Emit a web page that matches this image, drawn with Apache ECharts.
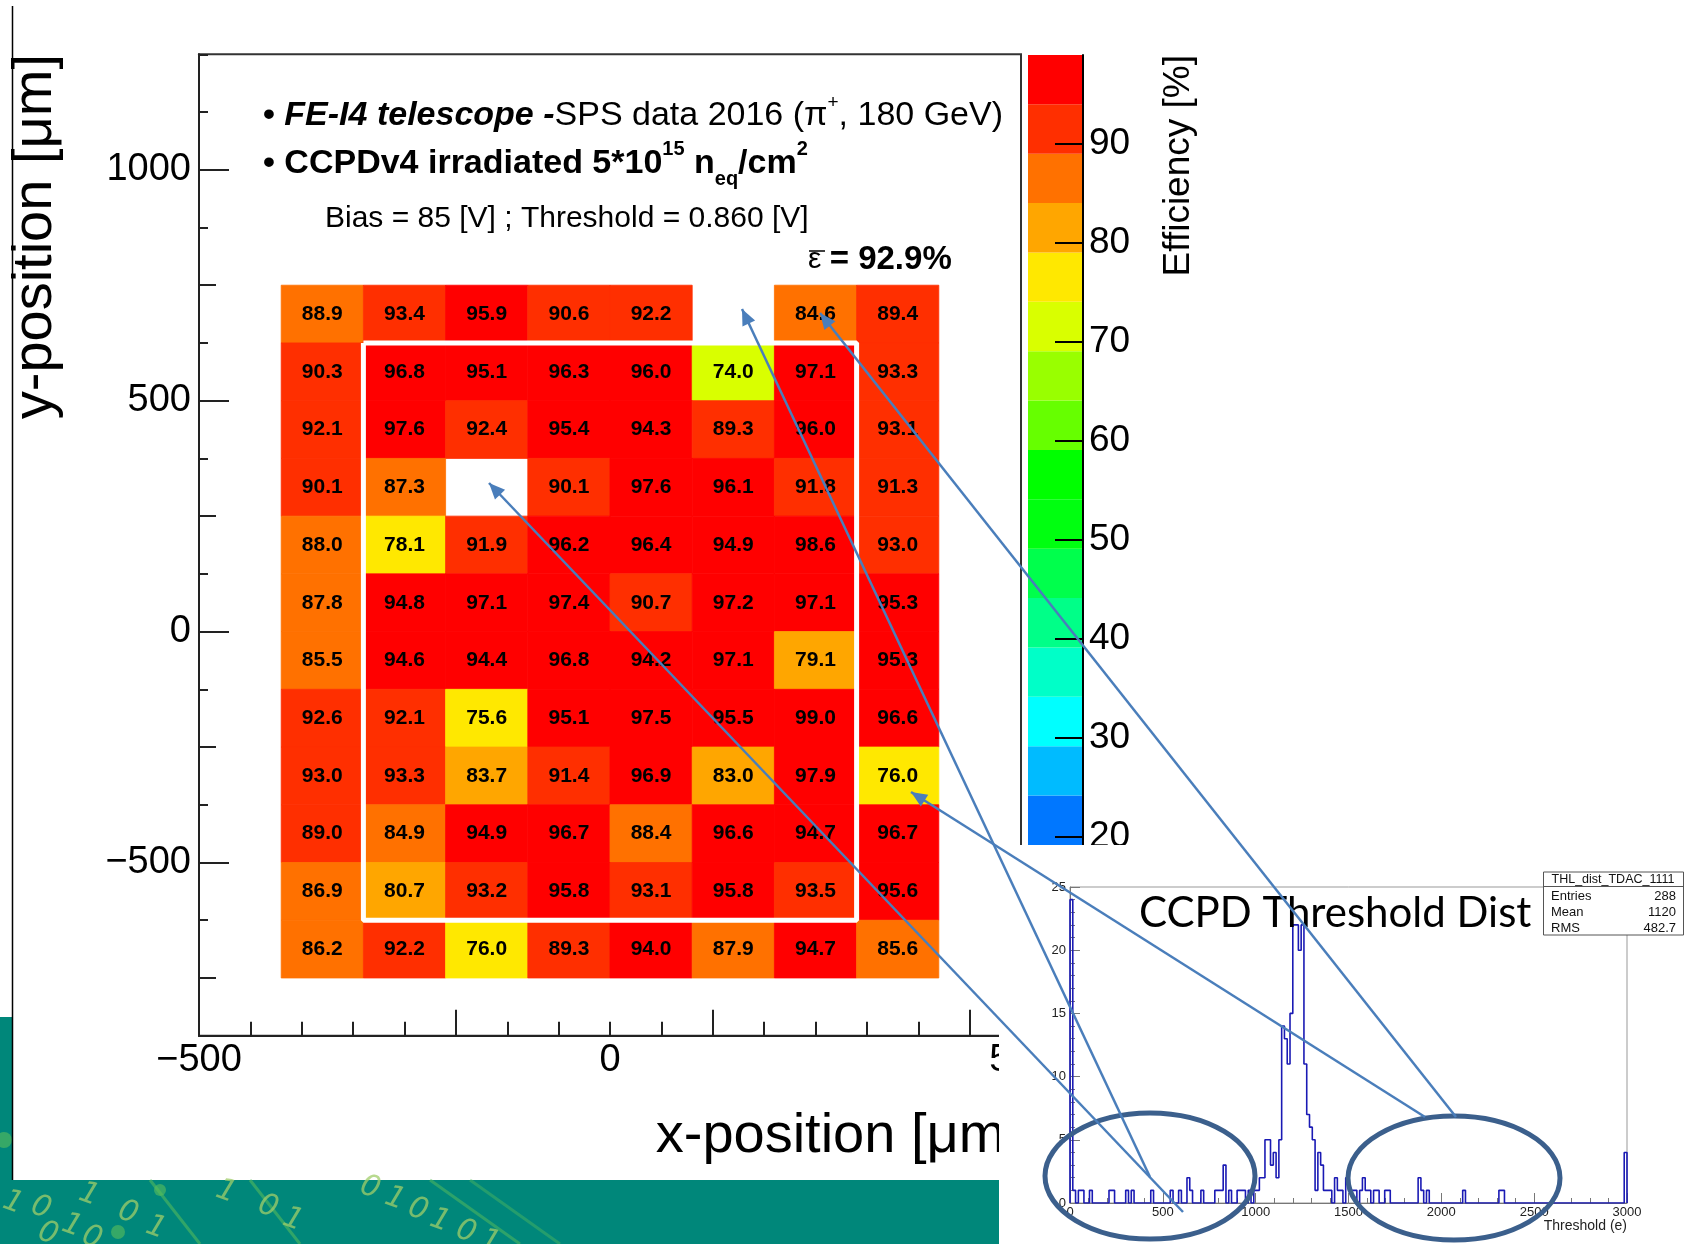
<!DOCTYPE html>
<html>
<head>
<meta charset="utf-8">
<script src="https://cdn.jsdelivr.net/npm/echarts@6/dist/echarts.min.js"></script>
<style>
  html, body { margin: 0; padding: 0; background: #fff; }
  #main { width: 1684px; height: 1244px; }
</style>
</head>
<body>
<div id="main"></div>
<script>
// ---- efficiency map (pixel centres in um) ----
const xCenters = [-350, -250, -150, -50, 50, 150, 250, 350];
const yCenters = [687.5, 562.5, 437.5, 312.5, 187.5, 62.5, -62.5, -187.5, -312.5, -437.5, -562.5, -687.5];
// rows top -> bottom, null = no data
const effRows = [
  [88.9, 93.4, 95.9, 90.6, 92.2, null, 84.6, 89.4],
  [90.3, 96.8, 95.1, 96.3, 96.0, 74.0, 97.1, 93.3],
  [92.1, 97.6, 92.4, 95.4, 94.3, 89.3, 96.0, 93.1],
  [90.1, 87.3, null, 90.1, 97.6, 96.1, 91.8, 91.3],
  [88.0, 78.1, 91.9, 96.2, 96.4, 94.9, 98.6, 93.0],
  [87.8, 94.8, 97.1, 97.4, 90.7, 97.2, 97.1, 95.3],
  [85.5, 94.6, 94.4, 96.8, 94.2, 97.1, 79.1, 95.3],
  [92.6, 92.1, 75.6, 95.1, 97.5, 95.5, 99.0, 96.6],
  [93.0, 93.3, 83.7, 91.4, 96.9, 83.0, 97.9, 76.0],
  [89.0, 84.9, 94.9, 96.7, 88.4, 96.6, 94.7, 96.7],
  [86.9, 80.7, 93.2, 95.8, 93.1, 95.8, 93.5, 95.6],
  [86.2, 92.2, 76.0, 89.3, 94.0, 87.9, 94.7, 85.6]
];
const cellSize = [100, 125];
const fiducialBox = [[-300, 625], [300, 625], [300, -625], [-300, -625], [-300, 625]];

const xLabelVals = [-500, 0, 500];
const xLongTicks = [-187.5, 125, 437.5];
const yLabelVals = [-500, 0, 500, 1000];
const yMidTicks = [-750, -250, 250, 750];
const zTickVals = [20, 30, 40, 50, 60, 70, 80, 90];

// palette levels of the z axis
const bandEdges = [9.23, 14.215, 19.2, 24.185, 29.17, 34.155, 39.14, 44.125, 49.11, 54.095,
  59.08, 64.065, 69.05, 74.035, 79.02, 84.005, 88.99, 93.975, 98.96];
const bandColors = ['#0010ff', '#0022ff', '#0077ff', '#00bbff', '#00ffff', '#00ffc8', '#00ff88',
  '#00ff4c', '#00ff10', '#00ff00', '#66ff00', '#99ff00', '#d9ff00', '#ffe800', '#ffa600',
  '#ff7100', '#ff2f00', '#ff0000'];

// ---- threshold histogram: [bin low edge (e), entries], empty bins left out ----
const thrBinWidth = 15;
const thrBins = [
  [0, 24], [15, 1], [45, 1], [60, 1], [105, 1], [210, 1], [225, 1], [300, 1], [330, 1],
  [435, 1], [540, 1], [585, 1], [630, 2], [645, 1], [705, 1], [780, 1], [795, 1], [810, 1],
  [825, 3], [855, 1], [900, 1], [915, 1], [930, 1], [960, 1], [990, 1], [1005, 1],
  [1020, 2], [1035, 2], [1050, 5], [1065, 5], [1080, 3], [1095, 4], [1110, 2], [1125, 5],
  [1140, 14], [1155, 13], [1170, 11], [1185, 15], [1200, 22], [1215, 22], [1230, 20],
  [1245, 22], [1260, 11], [1275, 7], [1290, 6], [1305, 5], [1320, 1], [1335, 4], [1350, 3],
  [1365, 1], [1380, 1], [1395, 1], [1425, 2], [1440, 1], [1455, 1], [1485, 2], [1500, 1],
  [1515, 1], [1530, 1], [1560, 1], [1575, 2], [1590, 1], [1605, 1], [1635, 1], [1650, 1],
  [1695, 1], [1710, 1], [1875, 2], [1890, 1], [1920, 1], [2115, 1], [2310, 1], [2325, 1],
  [2985, 4]
];
const thrLabelVals = [0, 500, 1000, 1500, 2000, 2500, 3000];
const cntLabelVals = [0, 5, 10, 15, 20, 25];
const statNames = ['Entries', 'Mean', 'RMS'];
const statValues = ['288', '1120', '482.7'];

const F = 'Liberation Sans';
const OFFICE_BLUE = '#4a7ebb';

// build cells
const cellData = [];
effRows.forEach((row, r) => row.forEach((v, c) => {
  if (v !== null) cellData.push([xCenters[c], yCenters[r], v]);
}));

const pieces = bandColors.map((c, i) => (
  i === bandColors.length - 1 ? { gte: bandEdges[i], color: c } : { gte: bandEdges[i], lt: bandEdges[i + 1], color: c }
));
const cbData = bandColors.map((c, i) => [bandEdges[i], bandEdges[i + 1], i]);

// full step outline of the histogram
const nBins = 3000 / thrBinWidth;
const counts = new Array(nBins).fill(0);
thrBins.forEach(([lo, n]) => { counts[Math.round(lo / thrBinWidth)] = n; });
const histLine = [[0, 0]];
counts.forEach((n, i) => histLine.push([i * thrBinWidth, n]));
histLine.push([3000, counts[nBins - 1]], [3000, 0]);

const minusFmt = v => String(v).replace('-', '\u2212');
const plainFmt = v => String(v);

// ---- slide annotations ----
const arrows = [
  { tip: [489, 483], tail: [1183, 1212] },
  { tip: [742, 309], tail: [1150, 1177] },
  { tip: [820, 313], tail: [1456, 1117] },
  { tip: [911, 792], tail: [1425, 1117] }
];
function arrowHead(tip, tail) {
  const dx = tail[0] - tip[0], dy = tail[1] - tip[1];
  const L = Math.hypot(dx, dy), ux = dx / L, uy = dy / L;
  const len = 16, hw = 7;
  const bx = tip[0] + ux * len, by = tip[1] + uy * len;
  return [tip, [bx - uy * hw, by + ux * hw], [bx + uy * hw, by - ux * hw]];
}

const bgDigits = [
  ['1', 13, 1203], ['0', 41, 1208], ['1', 89, 1195], ['0', 48, 1234], ['1', 72, 1226],
  ['0', 92, 1238], ['0', 128, 1213], ['1', 156, 1228], ['1', 226, 1192], ['0', 268, 1207],
  ['1', 293, 1220], ['0', 370, 1188], ['1', 395, 1199], ['0', 418, 1210], ['1', 440, 1221],
  ['0', 466, 1232], ['1', 490, 1242]
];

const graphics = [
  // slide background (bottom band + left strip)
  { type: 'rect', z: 0, shape: { x: 0, y: 1180, width: 999, height: 64 }, style: { fill: '#00877a' } },
  { type: 'rect', z: 0, shape: { x: 0, y: 1017, width: 12, height: 227 }, style: { fill: '#00877a' } },
  { type: 'polyline', z: 1, shape: { points: [[150, 1180], [175, 1212], [200, 1244]] }, style: { stroke: 'rgba(90,190,90,0.55)', lineWidth: 3 } },
  { type: 'polyline', z: 1, shape: { points: [[250, 1180], [300, 1244]] }, style: { stroke: 'rgba(90,190,90,0.55)', lineWidth: 3 } },
  { type: 'polyline', z: 1, shape: { points: [[430, 1180], [520, 1244]] }, style: { stroke: 'rgba(90,190,90,0.5)', lineWidth: 3 } },
  { type: 'polyline', z: 1, shape: { points: [[470, 1180], [560, 1244]] }, style: { stroke: 'rgba(90,190,90,0.4)', lineWidth: 3 } },
  { type: 'circle', z: 1, shape: { cx: 160, cy: 1190, r: 6 }, style: { fill: 'rgba(90,190,90,0.6)' } },
  { type: 'circle', z: 1, shape: { cx: 118, cy: 1232, r: 7 }, style: { fill: 'rgba(90,190,90,0.6)' } },
  { type: 'circle', z: 1, shape: { cx: 4, cy: 1140, r: 8 }, style: { fill: 'rgba(90,190,90,0.6)' } },
  ...bgDigits.map(([t, x, y]) => ({
    type: 'text', z: 1, x: x, y: y, rotation: -0.35,
    style: { text: t, fontSize: 30, fontStyle: 'italic', fontFamily: 'DejaVu Sans', fill: 'rgba(160,205,105,0.75)', align: 'center', verticalAlign: 'middle' }
  })),
  // left edge of the plot picture
  { type: 'line', z: 1, shape: { x1: 12.5, y1: 6, x2: 12.5, y2: 1180 }, style: { stroke: '#000', lineWidth: 1.5 } },

  // plot annotations
  {
    type: 'text', z: 5, x: 263, y: 116,
    style: {
      text: '{bul|• }{bi|FE-I4 telescope -}{n|SPS data 2016 (π}{sup|+}{n|, 180 GeV)}',
      fontSize: 34, fontFamily: F, verticalAlign: 'middle', fill: '#000',
      rich: {
        bul: { fontSize: 34, fontWeight: 'bold', fontFamily: F, lineHeight: 46 },
        bi: { fontSize: 34, fontWeight: 'bold', fontStyle: 'italic', fontFamily: F, lineHeight: 46 },
        n: { fontSize: 34, fontFamily: F, lineHeight: 46 },
        sup: { fontSize: 19, fontFamily: F, lineHeight: 22, verticalAlign: 'top' }
      }
    }
  },
  {
    type: 'text', z: 5, x: 263, y: 164,
    style: {
      text: '{bul|• }{b|CCPDv4 irradiated 5*10}{bsup|15}{b| n}{bsub|eq}{b|/cm}{bsup|2}',
      fontSize: 34, fontWeight: 'bold', fontFamily: F, verticalAlign: 'middle', fill: '#000',
      rich: {
        bul: { fontSize: 34, fontWeight: 'bold', fontFamily: F, lineHeight: 50 },
        b: { fontSize: 34, fontWeight: 'bold', fontFamily: F, lineHeight: 50 },
        bsup: { fontSize: 20, fontWeight: 'bold', fontFamily: F, lineHeight: 22, verticalAlign: 'top' },
        bsub: { fontSize: 20, fontWeight: 'bold', fontFamily: F, lineHeight: 24, verticalAlign: 'bottom' }
      }
    }
  },
  {
    type: 'text', z: 5, x: 325, y: 219,
    style: { text: 'Bias = 85 [V] ; Threshold = 0.860 [V]', fontSize: 30, fontFamily: F, fill: '#000', verticalAlign: 'middle' }
  },
  {
    type: 'text', z: 5, x: 808, y: 260,
    style: {
      text: '{e|ε }{b|= 92.9%}', verticalAlign: 'middle', fill: '#000',
      rich: {
        e: { fontSize: 30, fontFamily: F },
        b: { fontSize: 33, fontWeight: 'bold', fontFamily: F }
      }
    }
  },
  { type: 'line', z: 5, shape: { x1: 809, y1: 251, x2: 825, y2: 251 }, style: { stroke: '#000', lineWidth: 1.5 } },
  // axis titles
  {
    type: 'text', z: 5, x: 36, y: 54, rotation: Math.PI / 2,
    style: { text: 'y-position [μm]', fontSize: 56, fontFamily: F, fill: '#000', align: 'right', verticalAlign: 'middle' }
  },
  {
    type: 'text', z: 5, x: 1021, y: 1137,
    style: { text: 'x-position [μm]', fontSize: 56, fontFamily: F, fill: '#000', align: 'right', verticalAlign: 'middle' }
  },
  {
    type: 'text', z: 5, x: 1179, y: 55, rotation: Math.PI / 2,
    style: { text: 'Efficiency [%]', fontSize: 37, fontFamily: F, fill: '#000', align: 'right', verticalAlign: 'middle' }
  },

  // threshold-distribution picture pasted on top
  { type: 'rect', z: 10, shape: { x: 999, y: 845, width: 685, height: 399 }, style: { fill: '#fff' } },
  {
    type: 'text', z: 14, x: 1139, y: 913,
    style: { text: 'CCPD Threshold Dist', fontSize: 42, fontFamily: 'Lato', fill: '#000', verticalAlign: 'middle' }
  },
  {
    type: 'text', z: 12, x: 1627, y: 1226,
    style: { text: 'Threshold (e)', fontSize: 14, fontFamily: F, fill: '#222', align: 'right', verticalAlign: 'middle' }
  },
  { type: 'rect', z: 14, shape: { x: 1543.5, y: 872, width: 140, height: 63 }, style: { fill: '#fff', stroke: '#555', lineWidth: 1 } },
  { type: 'line', z: 14, shape: { x1: 1543.5, y1: 886.5, x2: 1683.5, y2: 886.5 }, style: { stroke: '#555', lineWidth: 1 } },
  {
    type: 'text', z: 15, x: 1613, y: 879.5,
    style: { text: 'THL_dist_TDAC_1111', fontSize: 12.5, fontFamily: F, fill: '#111', align: 'center', verticalAlign: 'middle' }
  },
  ...statNames.map((s, i) => ({
    type: 'text', z: 15, x: 1551, y: 896 + i * 16,
    style: { text: s, fontSize: 13, fontFamily: F, fill: '#111', verticalAlign: 'middle' }
  })),
  ...statValues.map((s, i) => ({
    type: 'text', z: 15, x: 1676, y: 896 + i * 16,
    style: { text: s, fontSize: 13, fontFamily: F, fill: '#111', align: 'right', verticalAlign: 'middle' }
  })),

  // call-outs
  { type: 'ellipse', z: 20, shape: { cx: 1150, cy: 1176, rx: 105, ry: 63 }, style: { fill: 'none', stroke: '#3b5f8c', lineWidth: 5 } },
  { type: 'ellipse', z: 20, shape: { cx: 1454, cy: 1178, rx: 106, ry: 62 }, style: { fill: 'none', stroke: '#3b5f8c', lineWidth: 5 } },
  ...arrows.map(a => ({
    type: 'line', z: 21, shape: { x1: a.tip[0], y1: a.tip[1], x2: a.tail[0], y2: a.tail[1] },
    style: { stroke: OFFICE_BLUE, lineWidth: 2.5 }
  })),
  ...arrows.map(a => ({
    type: 'polygon', z: 21, shape: { points: arrowHead(a.tip, a.tail) }, style: { fill: OFFICE_BLUE }
  }))
];

const axisCol = '#222';
const option = {
  animation: false,
  backgroundColor: '#fff',
  grid: [
    { left: 199, right: 663, top: 54.3, bottom: 208.3, show: true, borderColor: '#333', borderWidth: 2, outerBoundsMode: 'none' },
    { left: 1028, right: 601, top: 55, height: 881, outerBoundsMode: 'none' },
    { left: 1070, right: 57, top: 887, bottom: 41, show: true, borderColor: '#999', borderWidth: 1, z: 11, outerBoundsMode: 'none' }
  ],
  visualMap: {
    type: 'piecewise', show: false, dimension: 2, seriesIndex: 0, pieces: pieces
  },
  xAxis: [
    {
      gridIndex: 0, type: 'value', min: -500, max: 500, interval: 62.5, position: 'bottom',
      axisLine: { onZero: false, lineStyle: { color: axisCol, width: 2 } },
      axisTick: { inside: true, length: 14, lineStyle: { color: axisCol, width: 2 } },
      axisLabel: { customValues: xLabelVals, formatter: minusFmt, fontSize: 38, fontFamily: F, color: '#000', margin: 6 },
      splitLine: { show: false }
    },
    {
      gridIndex: 0, type: 'value', min: -500, max: 500, position: 'bottom',
      axisLine: { show: false, onZero: false },
      axisTick: { inside: true, length: 26, customValues: xLongTicks, lineStyle: { color: axisCol, width: 2 } },
      axisLabel: { show: false }, splitLine: { show: false }
    },
    { gridIndex: 1, type: 'value', min: 0, max: 1, show: false },
    {
      gridIndex: 2, type: 'value', min: 0, max: 3000, interval: 100, position: 'bottom', z: 11,
      axisLine: { onZero: false, lineStyle: { color: '#777', width: 1 } },
      axisTick: { inside: true, length: 5, lineStyle: { color: '#777' } },
      axisLabel: { customValues: thrLabelVals, formatter: plainFmt, fontSize: 13, fontFamily: F, color: '#222', margin: 3 },
      splitLine: { show: false }
    },
    {
      gridIndex: 2, type: 'value', min: 0, max: 3000, interval: 500, position: 'bottom', z: 11,
      axisLine: { show: false, onZero: false },
      axisTick: { inside: true, length: 10, lineStyle: { color: '#777' } },
      axisLabel: { show: false }, splitLine: { show: false }
    }
  ],
  yAxis: [
    {
      gridIndex: 0, type: 'value', min: -875, max: 1250, interval: 125, position: 'left',
      axisLine: { onZero: false, lineStyle: { color: axisCol, width: 2 } },
      axisTick: { inside: true, length: 9, lineStyle: { color: axisCol, width: 2 } },
      axisLabel: { customValues: yLabelVals, formatter: minusFmt, fontSize: 38, fontFamily: F, color: '#000', margin: 8 },
      splitLine: { show: false }
    },
    {
      gridIndex: 0, type: 'value', min: -875, max: 1250, position: 'left',
      axisLine: { show: false, onZero: false },
      axisTick: { inside: true, length: 17, customValues: yMidTicks, lineStyle: { color: axisCol, width: 2 } },
      axisLabel: { show: false }, splitLine: { show: false }
    },
    {
      gridIndex: 0, type: 'value', min: -875, max: 1250, position: 'left',
      axisLine: { show: false, onZero: false },
      axisTick: { inside: true, length: 30, customValues: yLabelVals, lineStyle: { color: axisCol, width: 2 } },
      axisLabel: { show: false }, splitLine: { show: false }
    },
    {
      gridIndex: 1, type: 'value', min: 10, max: 98.96, position: 'right', z: 4,
      axisLine: { onZero: false, lineStyle: { color: '#000', width: 2 } },
      axisTick: { inside: true, length: 28, customValues: zTickVals, lineStyle: { color: '#000', width: 2 } },
      axisLabel: { customValues: zTickVals, formatter: plainFmt, fontSize: 37, fontFamily: F, color: '#000', margin: 6 },
      splitLine: { show: false }
    },
    {
      gridIndex: 2, type: 'value', min: 0, max: 25, interval: 1, position: 'left', z: 11,
      axisLine: { onZero: false, lineStyle: { color: '#777', width: 1 } },
      axisTick: { inside: true, length: 5, lineStyle: { color: '#777' } },
      axisLabel: { customValues: cntLabelVals, formatter: plainFmt, fontSize: 13, fontFamily: F, color: '#222', margin: 4 },
      splitLine: { show: false }
    },
    {
      gridIndex: 2, type: 'value', min: 0, max: 25, interval: 5, position: 'left', z: 11,
      axisLine: { show: false, onZero: false },
      axisTick: { inside: true, length: 10, lineStyle: { color: '#777' } },
      axisLabel: { show: false }, splitLine: { show: false }
    }
  ],
  series: [
    {
      type: 'custom', xAxisIndex: 0, yAxisIndex: 0, z: 2,
      data: cellData,
      renderItem: function (params, api) {
        const x = api.value(0), y = api.value(1), v = api.value(2);
        const p0 = api.coord([x - cellSize[0] / 2, y + cellSize[1] / 2]);
        const p1 = api.coord([x + cellSize[0] / 2, y - cellSize[1] / 2]);
        const col = api.visual('color');
        return {
          type: 'group',
          children: [
            {
              type: 'rect',
              shape: { x: p0[0], y: p0[1], width: p1[0] - p0[0], height: p1[1] - p0[1] },
              style: { fill: col, stroke: col, lineWidth: 0.8 }
            },
            {
              type: 'text',
              style: {
                text: v.toFixed(1), x: (p0[0] + p1[0]) / 2, y: (p0[1] + p1[1]) / 2,
                align: 'center', verticalAlign: 'middle',
                fontSize: 21, fontWeight: 'bold', fontFamily: F, fill: '#000'
              }
            }
          ]
        };
      }
    },
    {
      type: 'line', xAxisIndex: 0, yAxisIndex: 0, z: 3,
      data: fiducialBox, showSymbol: false, symbol: 'none',
      lineStyle: { color: '#fff', width: 5 }
    },
    {
      type: 'custom', xAxisIndex: 2, yAxisIndex: 3, z: 2,
      data: cbData,
      renderItem: function (params, api) {
        const p0 = api.coord([0, api.value(1)]);
        const p1 = api.coord([1, api.value(0)]);
        return {
          type: 'rect',
          shape: { x: p0[0], y: p0[1], width: p1[0] - p0[0], height: p1[1] - p0[1] },
          style: { fill: bandColors[api.value(2)] }
        };
      }
    },
    {
      type: 'line', xAxisIndex: 3, yAxisIndex: 4, z: 12,
      data: histLine, step: 'end', showSymbol: false, symbol: 'none',
      lineStyle: { color: '#1a1ab4', width: 1.6 }
    }
  ],
  graphic: { elements: graphics }
};

const chart = echarts.init(document.getElementById('main'));
chart.setOption(option);
window.addEventListener('resize', () => chart.resize());
</script>
</body>
</html>
